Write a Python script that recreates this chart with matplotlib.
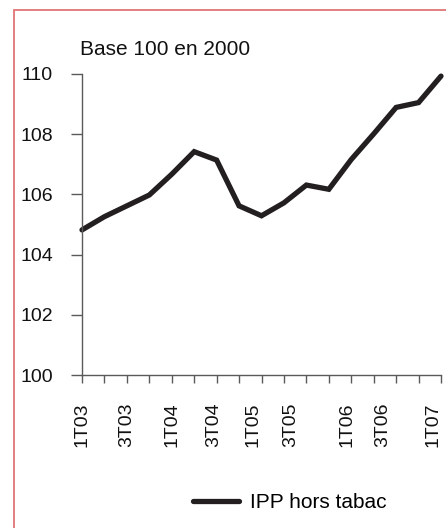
import matplotlib
matplotlib.use("Agg")
import matplotlib.pyplot as plt
from matplotlib.patches import Rectangle

plt.rcParams['font.family'] = ['Liberation Sans', 'DejaVu Sans']

# trimestres 1T03 .. 1T07
quarters = ['1T03', '2T03', '3T03', '4T03', '1T04', '2T04', '3T04', '4T04',
            '1T05', '2T05', '3T05', '4T05', '1T06', '2T06', '3T06', '4T06', '1T07']
ipp = [104.82, 105.26, 105.62, 105.98, 106.67, 107.42, 107.14, 105.62,
       105.29, 105.72, 106.31, 106.17, 107.16, 108.01, 108.89, 109.05, 109.93]
yticks = [100, 102, 104, 106, 108, 110]
shown = ['1T03', '3T03', '1T04', '3T04', '1T05', '3T05', '1T06', '3T06', '1T07']
# where the labels sit in the original (not exactly on the ticks)
label_pos = [0, 2.0, 4.0, 5.85, 7.6, 9.3, 11.8, 13.4, 15.65]

W, H = 446, 528
fig = plt.figure(figsize=(W / 100, H / 100), dpi=100)
ax = fig.add_axes([82 / W, 1 - 375 / H, (441 - 82) / W, (375 - 74) / H])

x = list(range(len(quarters)))
ax.plot(x, ipp, color='#231f20', lw=3.8, solid_joinstyle='miter',
        solid_capstyle='round', label='IPP hors tabac', clip_on=False)

ax.set_xlim(0, len(quarters) - 1)
ax.set_ylim(100, 110)
ax.set_yticks(yticks)
ax.set_yticklabels([str(v) for v in yticks])
ax.xaxis.remove_overlapping_locs = False
ax.set_xticks(x)
ax.set_xticklabels([])
ax.set_xticks(label_pos, minor=True)
ax.set_xticklabels(shown, minor=True, rotation=90)

axc = '#5a5a5a'
for s in ['top', 'right']:
    ax.spines[s].set_visible(False)
for s in ['left', 'bottom']:
    ax.spines[s].set_color(axc)
    ax.spines[s].set_linewidth(1.0)
ax.tick_params(axis='y', length=8, width=1.0, color=axc, labelsize=14,
               pad=13, labelcolor='#111111')
ax.tick_params(axis='x', which='major', length=6, width=1.0, color=axc)
ax.tick_params(axis='x', which='minor', length=0, labelsize=14,
               pad=20, labelcolor='#111111')

fig.text(80 / W, 1 - 55 / H, 'Base 100 en 2000', fontsize=15,
         color='#111111', va='baseline', ha='left')

fig.legend(loc='center left', bbox_to_anchor=(193 / W, 1 - 503 / H),
           frameon=False, fontsize=15, borderpad=0, borderaxespad=0,
           handlelength=2.2, handletextpad=0.55)

# cadre rouge
fig.patches.append(Rectangle((14.5 / W, -0.1), 1.2, 1 - 9.5 / H + 0.1,
                             transform=fig.transFigure, fill=False,
                             edgecolor='#e07575', lw=1.3, clip_on=False))

fig.savefig('out.png', dpi=100, facecolor='white')
